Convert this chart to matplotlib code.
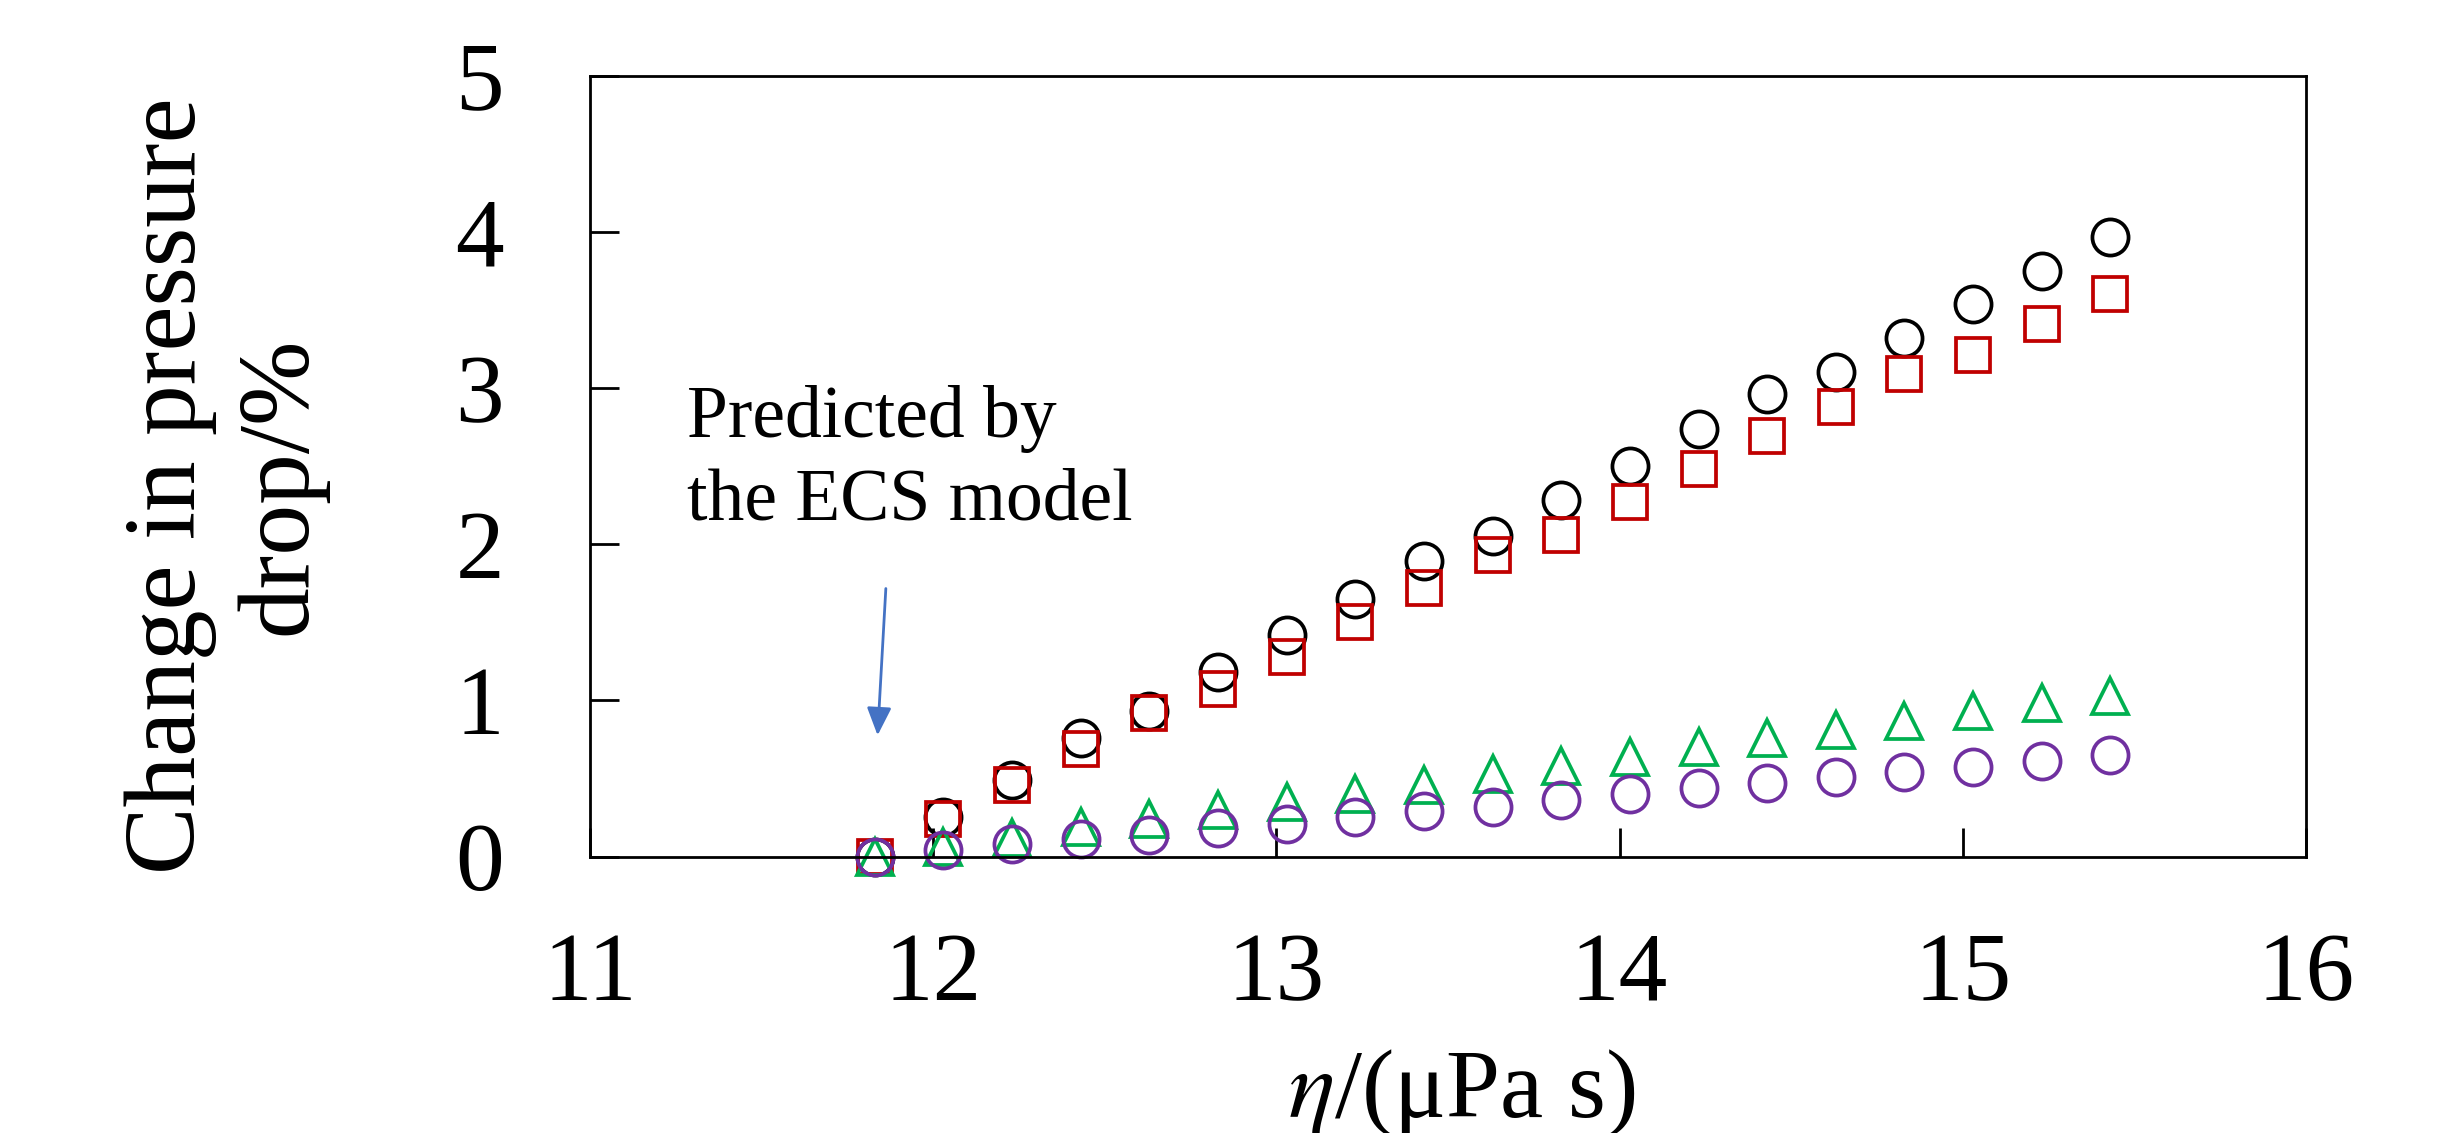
import matplotlib
matplotlib.use("Agg")
import matplotlib.pyplot as plt

plt.rcParams['font.family'] = ['Liberation Serif', 'DejaVu Serif']
plt.rcParams['mathtext.fontset'] = 'stix'

# viscosity / (uPa s)
eta = [11.83, 12.03, 12.23, 12.43, 12.63, 12.83, 13.03, 13.23, 13.43, 13.63,
       13.83, 14.03, 14.23, 14.43, 14.63, 14.83, 15.03, 15.23, 15.43]

# change in pressure drop / %
black_circles = [0.00, 0.25, 0.49, 0.76, 0.93, 1.18, 1.42, 1.65, 1.89, 2.05,
                 2.28, 2.50, 2.74, 2.96, 3.10, 3.32, 3.54, 3.75, 3.97]
red_squares = [0.00, 0.24, 0.46, 0.69, 0.92, 1.07, 1.28, 1.50, 1.72, 1.93,
               2.06, 2.27, 2.48, 2.69, 2.88, 3.09, 3.21, 3.41, 3.60]
green_triangles = [0.00, 0.06, 0.12, 0.19, 0.24, 0.30, 0.35, 0.40, 0.46, 0.53,
                   0.58, 0.64, 0.70, 0.76, 0.81, 0.87, 0.93, 0.98, 1.03]
purple_circles = [0.00, 0.04, 0.08, 0.11, 0.14, 0.18, 0.21, 0.25, 0.29, 0.32,
                  0.36, 0.40, 0.44, 0.47, 0.51, 0.54, 0.57, 0.61, 0.65]

x_ticks = [11, 12, 13, 14, 15, 16]
y_ticks = [0, 1, 2, 3, 4, 5]

W, H = 2439, 1133
fig = plt.figure(figsize=(W / 100, H / 100), dpi=100)
ax = fig.add_axes([590 / W, 1 - 856.5 / H, (2306 - 590) / W, (856.5 - 75.7) / H])

ms = 26
mew = 2.7
ax.plot(eta, black_circles, 'o', ms=ms, mew=mew, mec='black', mfc='none', clip_on=False)
ax.plot(eta, red_squares, 's', ms=ms - 1, mew=mew, mec='#C00000', mfc='none', clip_on=False)
ax.plot(eta, green_triangles, '^', ms=ms, mew=mew, mec='#00B050', mfc='none', clip_on=False)
ax.plot(eta, purple_circles, 'o', ms=ms, mew=mew, mec='#7030A0', mfc='none', clip_on=False)

ax.set_xlim(11, 16)
ax.set_ylim(0, 5)
ax.set_xticks(x_ticks)
ax.set_yticks(y_ticks)
ax.tick_params(axis='x', direction='in', length=21, width=2, labelsize=70, pad=55)
ax.tick_params(axis='y', direction='in', length=21, width=2, labelsize=70, pad=62)
for sp in ax.spines.values():
    sp.set_linewidth(2)

# annotation + arrow
ax.text(11.283, 3.02, "Predicted by\nthe ECS model", fontsize=53,
        ha='left', va='top', linespacing=1.3)
ax.annotate('', xy=(11.838, 0.776), xytext=(11.862, 1.716),
            arrowprops=dict(arrowstyle='-|>,head_length=0.68,head_width=0.3',
                            color='#4472C4', lw=2.0, mutation_scale=25,
                            shrinkA=0, shrinkB=0))

fig.text(1462 / W, 1 - 1117 / H, r'$\eta$/(μPa s)', fontsize=70,
         ha='center', va='baseline')
fig.text(226 / W, 1 - 486 / H, "Change in pressure\ndrop/%", fontsize=73,
         rotation=90, ha='center', va='center', multialignment='center',
         linespacing=1.25)

fig.savefig('out.png', dpi=100)
